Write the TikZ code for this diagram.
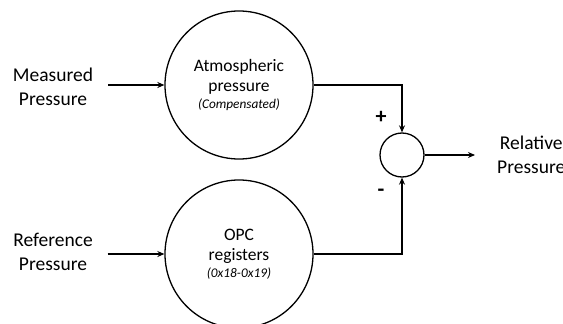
\documentclass[tikz,border=0pt]{standalone}
\usepackage{fontspec}
\setmainfont{Carlito}
\usetikzlibrary{arrows.meta}
\begin{document}
\begin{tikzpicture}[x=1pt,y=-1pt,
  lbl/.style={align=center,font=\fontsize{19.5}{23.5}\selectfont,inner sep=0pt},
  blk/.style={draw,circle,line width=1.3pt,minimum size=148pt,inner sep=0pt,align=center,font=\fontsize{17.5}{20}\selectfont},
  arr/.style={line width=1.3pt,-{Stealth[length=7pt,width=6pt]}},
  sgn/.style={font=\fontsize{22}{24}\selectfont\bfseries,inner sep=0pt}]
\useasboundingbox (0,0) rectangle (563,324);
\node[lbl,outer xsep=15pt] (mp) at (53,87) {Measured\\Pressure};
\node[lbl,outer xsep=15pt] (rp) at (53,252) {Reference\\Pressure};
\node[blk] (top) at (239,85) {Atmospheric\\pressure\\[-3pt]{\fontsize{13.3}{15}\selectfont\itshape (Compensated)}};
\node[blk] (bot) at (239,254) {OPC\\registers\\[-3pt]{\fontsize{13.3}{15}\selectfont\itshape (0x18-0x19)}};
\node[draw,circle,line width=1.3pt,minimum size=44pt,inner sep=0pt] (sum) at (402,155) {};
\node[lbl,anchor=west,inner xsep=22pt] (rel) at (475,155) {Relative\\Pressure};
\node[sgn] (plus) at (381,117) {+};
\node[sgn] (minus) at (381,193) {-};
\draw[arr] (mp.east |- top.west) -- (top.west);
\draw[arr] (rp.east |- bot.west) -- (bot.west);
\draw[arr] (top.east) -| (sum.north);
\draw[arr] (bot.east) -| (sum.south);
\draw[arr] (sum.east) -- (rel.west);
\end{tikzpicture}
\end{document}
